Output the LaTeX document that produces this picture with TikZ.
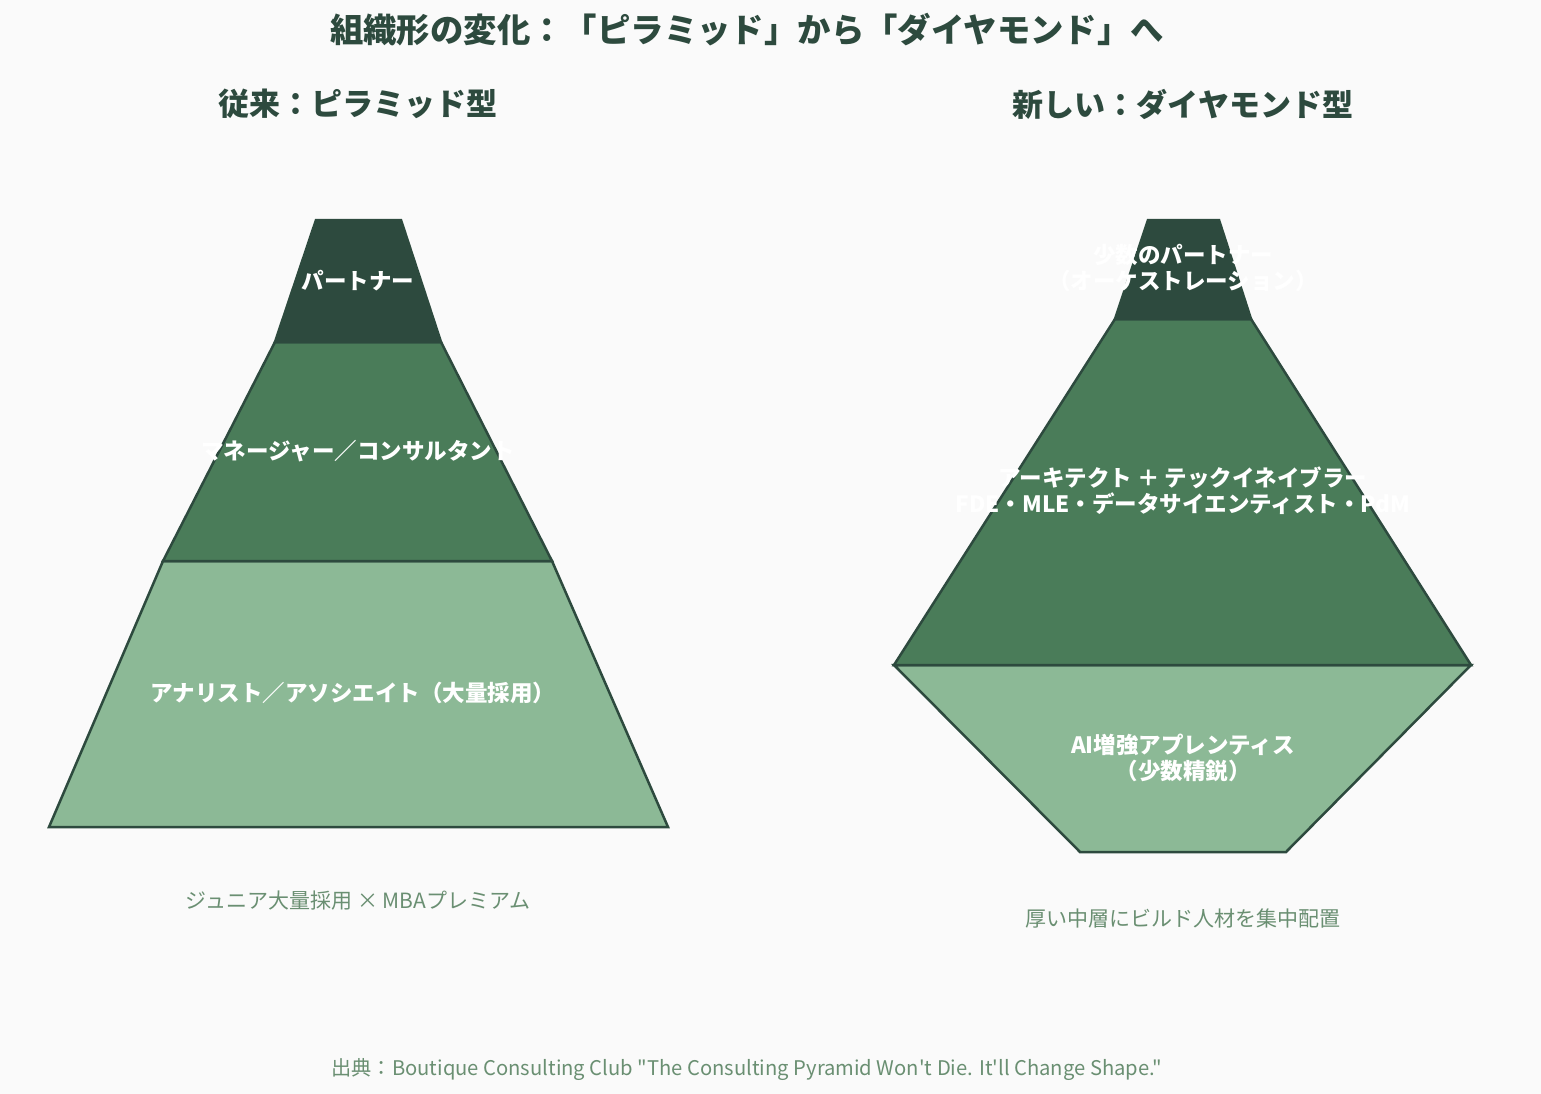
\documentclass[tikz,border=0pt]{standalone}
\usepackage{fontspec}
\newfontfamily\jp{Noto Sans CJK JP}
\definecolor{bg}{HTML}{FAFAFA}
\definecolor{dk}{HTML}{2D4A3E}
\definecolor{md}{HTML}{4A7C59}
\definecolor{lt}{HTML}{8CB996}
\definecolor{cap}{HTML}{6A8F72}
\tikzset{
  layer/.style={draw=dk, line width=2.5pt, line join=miter},
  lbl/.style={text=white, font=\jp\bfseries\fontsize{22.5}{26}\selectfont, align=center, inner sep=0pt},
  head/.style={text=dk, font=\jp\bfseries\fontsize{31}{34}\selectfont, inner sep=0pt},
  capt/.style={text=cap, font=\jp\fontsize{21}{24}\selectfont, inner sep=0pt},
}
\begin{document}
\begin{tikzpicture}[x=1pt,y=-1pt]
\fill[bg] (0,0) rectangle (1541,1094);
\useasboundingbox (0,0) rectangle (1541,1094);
% titles
\node[head, font=\jp\bfseries\fontsize{33.4}{36}\selectfont] (title) at (747,30) {組織形の変化：「ピラミッド」から「ダイヤモンド」へ};
\node[head] (hl) at (358,104) {従来：ピラミッド型};
\node[head] (hr) at (1183,104) {新しい：ダイヤモンド型};
% left pyramid
\filldraw[layer, fill=lt] (163,561) -- (552,561) -- (668,827) -- (49,827) -- cycle;
\filldraw[layer, fill=md] (275,342) -- (441,342) -- (552,561) -- (163,561) -- cycle;
\filldraw[layer, fill=dk] (316,220) -- (401,220) -- (441,342) -- (275,342) -- cycle;
\node[lbl] (lp) at (358,281) {パートナー};
\node[lbl] (lm) at (358,451) {マネージャー／コンサルタント};
\node[lbl] (la) at (353,693) {アナリスト／アソシエイト（大量採用）};
\node[capt] (lc) at (358,901) {ジュニア大量採用 × MBAプレミアム};
% right diamond
\filldraw[layer, fill=lt] (894,665) -- (1471,665) -- (1286,852) -- (1080,852) -- cycle;
\filldraw[layer, fill=md] (1115,319) -- (1251,319) -- (1471,665) -- (894,665) -- cycle;
\filldraw[layer, fill=dk] (1148,220) -- (1219,220) -- (1251,319) -- (1115,319) -- cycle;
\node[lbl] (rp) at (1183,268) {少数のパートナー\\（オーケストレーション）};
\node[lbl] (rm) at (1183,491) {アーキテクト ＋ テックイネイブラー\\FDE・MLE・データサイエンティスト・PdM};
\node[lbl] (ra) at (1183,758) {AI増強アプレンティス\\（少数精鋭）};
\node[capt] (rc) at (1183,918) {厚い中層にビルド人材を集中配置};
% footer
\node[capt, font=\jp\fontsize{20.2}{24}\selectfont] (src) at (747,1069) {出典：Boutique Consulting Club "The Consulting Pyramid Won't Die. It'll Change Shape."};
\end{tikzpicture}
\end{document}
